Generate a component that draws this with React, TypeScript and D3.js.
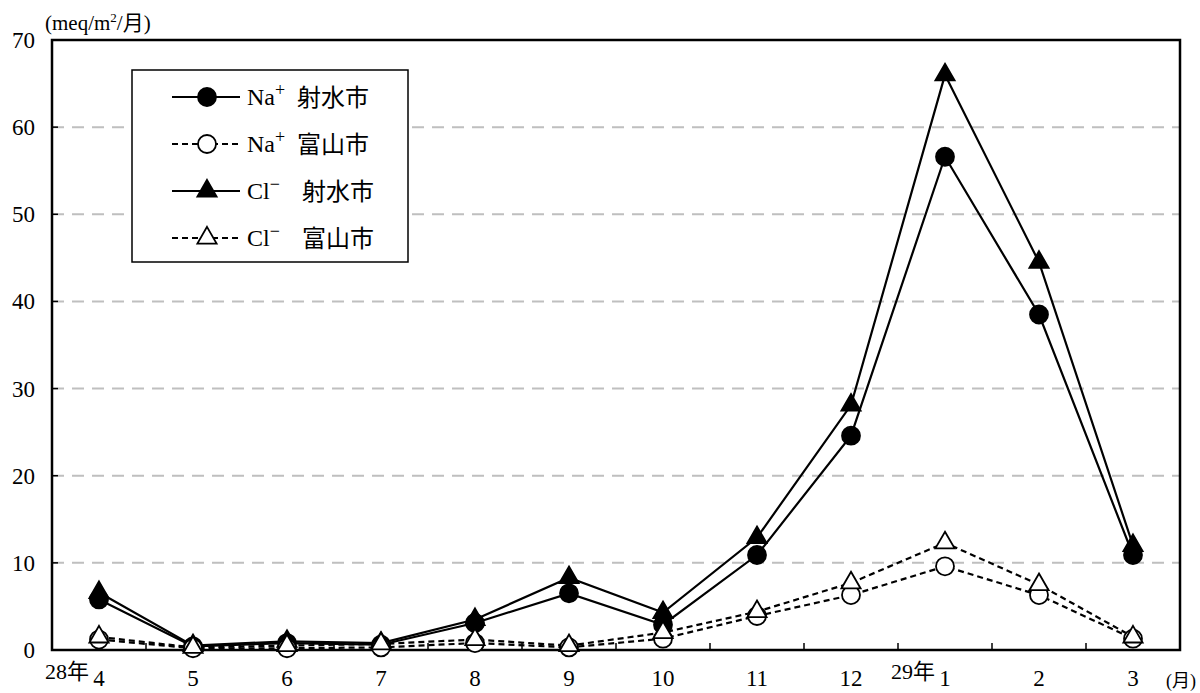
import React from "react";
import * as d3 from "d3";

const months = ["4", "5", "6", "7", "8", "9", "10", "11", "12", "1", "2", "3"];
const yearLabels = [
  { month: "4", label: "28年" },
  { month: "1", label: "29年" },
];

const naImizu = [5.8, 0.4, 0.8, 0.6, 3.1, 6.5, 2.9, 10.9, 24.6, 56.6, 38.5, 10.9];
const naToyama = [1.2, 0.2, 0.2, 0.3, 0.8, 0.3, 1.3, 3.9, 6.3, 9.6, 6.3, 1.3];
const clImizu = [6.6, 0.5, 1.0, 0.8, 3.5, 8.3, 4.3, 12.9, 28.1, 66.0, 44.5, 12.0];
const clToyama = [1.5, 0.3, 0.5, 0.7, 1.2, 0.5, 2.0, 4.4, 7.7, 12.3, 7.5, 1.5];

const yTicks = [0, 10, 20, 30, 40, 50, 60, 70];

type Series = {
  ion: string;
  charge: string;
  city: string;
  values: number[];
  dashed: boolean;
  shape: "circle" | "triangle";
  filled: boolean;
};

const series: Series[] = [
  { ion: "Na", charge: "+", city: "射水市", values: naImizu, dashed: false, shape: "circle", filled: true },
  { ion: "Na", charge: "+", city: "富山市", values: naToyama, dashed: true, shape: "circle", filled: false },
  { ion: "Cl", charge: "−", city: "射水市", values: clImizu, dashed: false, shape: "triangle", filled: true },
  { ion: "Cl", charge: "−", city: "富山市", values: clToyama, dashed: true, shape: "triangle", filled: false },
];

// draw order: solid first, then dashed
const drawOrder = [0, 2, 1, 3];

const FONT = '"Liberation Serif", "Noto Sans CJK JP", serif';

const Marker = ({ s, x, y }: { s: Series; x: number; y: number }) => {
  const fill = s.filled ? "#000" : "#fff";
  if (s.shape === "circle") {
    return <circle cx={x} cy={y} r={9} fill={fill} stroke="#000" strokeWidth={1.8} />;
  }
  const tri = d3.symbol(d3.symbolTriangle, 160)() as string;
  return (
    <path d={tri} transform={`translate(${x},${y})`} fill={fill} stroke="#000" strokeWidth={1.8} />
  );
};

export default function App() {
  const width = 1200;
  const height = 693;
  const left = 52;
  const right = 1180;
  const top = 40;
  const bottom = 650;

  const x = d3.scaleBand<string>().domain(months).range([left, right]);
  const cx = (m: string) => (x(m) as number) + x.bandwidth() / 2;
  const y = d3.scaleLinear().domain([0, 70]).range([bottom, top]);

  const line = d3
    .line<number>()
    .x((_, i) => cx(months[i]))
    .y((d) => y(d));

  const boundaries = months.slice(1).map((m) => x(m) as number);

  return (
    <svg
      width={width}
      height={height}
      style={{ position: "absolute", left: 0, top: 0, fontFamily: FONT }}
    >
      <rect x={0} y={0} width={width} height={height} fill="#fff" />

      {/* gridlines */}
      {yTicks
        .filter((t) => t > 0 && t < 70)
        .map((t) => (
          <line
            key={t}
            x1={left}
            x2={right}
            y1={y(t)}
            y2={y(t)}
            stroke="#bfbfbf"
            strokeWidth={2}
            strokeDasharray="12 8"
          />
        ))}

      {/* frame */}
      <rect x={left} y={top} width={right - left} height={bottom - top} fill="none" stroke="#000" strokeWidth={2.5} />

      {/* y ticks */}
      {yTicks.map((t) => (
        <g key={t}>
          <line x1={left} x2={left + 6} y1={y(t)} y2={y(t)} stroke="#000" strokeWidth={1.5} />
          <text x={35} y={y(t) + 8} textAnchor="end" fontSize={23}>
            {t}
          </text>
        </g>
      ))}

      {/* x ticks */}
      {boundaries.map((b, i) => (
        <line key={i} x1={b} x2={b} y1={bottom} y2={bottom - 7} stroke="#000" strokeWidth={1.5} />
      ))}
      {months.map((m) => (
        <text key={m} x={cx(m)} y={686} textAnchor="middle" fontSize={23}>
          {m}
        </text>
      ))}
      {yearLabels.map((d) => (
        <text key={d.label} x={cx(d.month) - 10} y={679} textAnchor="end" fontSize={22}>
          {d.label}
        </text>
      ))}
      <text x={1166} y={687} fontSize={18}>
        (月)
      </text>

      {/* unit */}
      <text x={45} y={30} fontSize={21}>
        (meq/m
        <tspan dy={-8} fontSize={13}>
          2
        </tspan>
        <tspan dy={8}>/月)</tspan>
      </text>

      {/* series lines */}
      {drawOrder.map((k) => {
        const s = series[k];
        return (
          <path
            key={`l${k}`}
            d={line(s.values) as string}
            fill="none"
            stroke="#000"
            strokeWidth={2.2}
            strokeDasharray={s.dashed ? "6 4" : undefined}
          />
        );
      })}
      {drawOrder.map((k) => {
        const s = series[k];
        return (
          <g key={`m${k}`}>
            {s.values.map((v, i) => (
              <Marker key={i} s={s} x={cx(months[i])} y={y(v)} />
            ))}
          </g>
        );
      })}

      {/* legend */}
      <rect x={132} y={70} width={276} height={192} fill="#fff" stroke="#000" strokeWidth={1.5} />
      {series.map((s, i) => {
        const ly = 97 + i * 47;
        return (
          <g key={`lg${i}`}>
            <line
              x1={172}
              x2={240}
              y1={ly}
              y2={ly}
              stroke="#000"
              strokeWidth={2.2}
              strokeDasharray={s.dashed ? "6 4" : undefined}
            />
            <Marker s={s} x={207} y={ly} />
            <text x={247} y={ly + 8} fontSize={24}>
              {s.ion}
              <tspan dy={-9} fontSize={18}>
                {s.charge}
              </tspan>
            </text>
            <text x={s.ion === "Na" ? 297 : 302} y={ly + 9} fontSize={24}>
              {s.city}
            </text>
          </g>
        );
      })}
    </svg>
  );
}
